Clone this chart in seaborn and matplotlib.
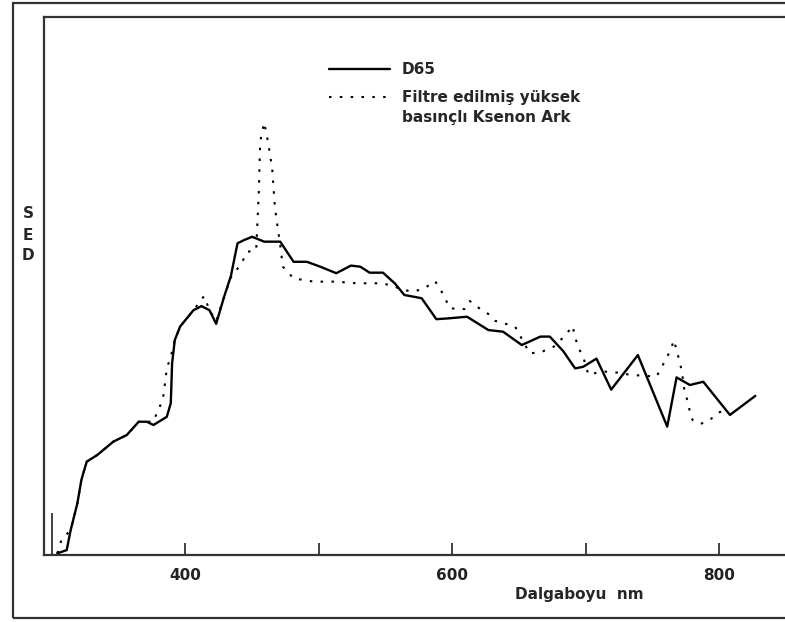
import seaborn as sns
import matplotlib.pyplot as plt
from matplotlib.patches import Rectangle
from matplotlib.legend_handler import HandlerLine2D

# D65 curve (wavelength nm, relative SPD)
wl_d65 = [304, 311, 314, 319, 322, 326, 334, 346, 356, 365,
          371, 376, 386, 389, 390, 392, 396, 406, 412, 418,
          423, 429, 434, 439, 444, 450, 459, 471, 481, 491,
          501, 513, 524, 531, 538, 548, 557, 564, 577, 588,
          597, 611, 627, 638, 652, 666, 673, 683, 692, 698,
          708, 719, 739, 761, 768, 778, 788, 808, 827]
spd_d65 = [0.6, 1.8, 9.2, 19.0, 27.6, 34.3, 36.8, 41.7, 44.1, 49.0,
           49.0, 47.8, 50.8, 55.8, 70.5, 79.0, 84.0, 90.0, 91.5, 90.0,
           85.0, 95.0, 102.5, 114.6, 115.8, 117.0, 115.2, 115.2, 107.8, 107.8,
           106.0, 103.6, 106.4, 106.0, 103.8, 103.8, 99.8, 95.6, 94.4, 86.7,
           87.0, 87.6, 82.7, 82.1, 77.2, 80.3, 80.3, 75.0, 68.6, 69.2,
           72.2, 60.8, 73.5, 47.2, 65.3, 62.5, 63.7, 51.5, 58.5]

# filtered high pressure xenon arc
wl_xe = [304, 307, 314, 319, 322, 326, 334, 346, 356, 365,
         371, 376, 379, 383, 385, 386, 389, 392, 396, 406,
         414, 418, 423, 429, 434, 442, 446, 453, 455, 456,
         459, 462, 465, 467, 469, 471, 473, 481, 496, 513,
         528, 548, 569, 578, 587, 591, 594, 598, 609, 613,
         621, 627, 632, 647, 658, 667, 676, 685, 690, 692,
         694, 698, 702, 711, 719, 734, 753, 757, 761, 764,
         766, 770, 772, 774, 776, 778, 780, 786, 793, 798, 806]
spd_xe = [0.6, 5.5, 9.2, 19.0, 27.6, 34.3, 36.8, 41.7, 44.1, 49.0,
          49.0, 49.0, 52.7, 57.0, 64.3, 68.6, 72.9, 79.0, 84.0, 90.0,
          95.2, 90.0, 86.0, 95.0, 102.0, 107.2, 111.4, 112.1, 134.0, 152.0,
          159.0, 151.5, 142.0, 128.0, 120.7, 114.0, 106.0, 101.7, 100.5, 100.5,
          99.9, 99.9, 96.8, 97.7, 100.7, 97.7, 95.0, 90.7, 90.4, 93.4,
          90.4, 88.6, 86.1, 84.0, 74.1, 74.7, 76.6, 80.9, 84.2, 80.3,
          76.6, 72.9, 66.2, 67.4, 67.4, 66.2, 65.6, 69.2, 72.9, 76.0,
          79.0, 71.7, 67.4, 60.0, 57.0, 52.7, 49.6, 48.2, 49.6, 52.1, 53.5]

labels = ['D65', 'Filtre edilmiş yüksek\nbasınçlı Ksenon Ark']


class TopLineHandler(HandlerLine2D):
    # put the handle next to the first line of a two-line label
    def __init__(self, shift=0, **kw):
        super().__init__(**kw)
        self.shift = shift

    def create_artists(self, *args, **kw):
        arts = super().create_artists(*args, **kw)
        for a in arts:
            a.set_ydata([y + self.shift for y in a.get_ydata()])
        return arts


sns.set_theme(style="white")
plt.rcParams['font.family'] = ['DejaVu Sans']
plt.rcParams['font.weight'] = 'bold'

fig = plt.figure(figsize=(7.85, 6.22), dpi=100)
ax = fig.add_axes([44 / 785, 1 - 555 / 622, (790 - 44) / 785, (555 - 17) / 622])

sns.lineplot(x=wl_d65, y=spd_d65, ax=ax, color='black', lw=1.7, label=labels[0])
sns.lineplot(x=wl_xe, y=spd_xe, ax=ax, color='black', lw=1.5,
             linestyle=(0, (1.2, 4)), label=labels[1])

ax.set_xlim(294, 853)
ax.set_ylim(0, 197.8)
ax.set_xticks([400, 500, 600, 700, 800])
ax.set_xticklabels(['400', '', '600', '', '800'])
ax.set_xticks([300], minor=True)
ax.set_yticks([])
ax.tick_params(axis='x', which='major', direction='in', length=9, width=1.2,
               pad=9, labelsize=11, bottom=True, colors='#222')
ax.tick_params(axis='x', which='minor', direction='in', length=30, width=1.2,
               bottom=True, color='#222')
ax.set_xlabel('')
ax.set_ylabel('')
for s in ax.spines.values():
    s.set_color('#333')
    s.set_linewidth(1.6)

fig.text(579 / 785, 1 - 594 / 622, 'Dalgaboyu  nm', ha='center', va='center',
         fontsize=11, fontweight='bold')
fig.text(28 / 785, 1 - 235 / 622, 'S\nE\nD', ha='center', va='center',
         fontsize=11, fontweight='bold', linespacing=1.5)

h, l = ax.get_legend_handles_labels()
leg = ax.legend(h, l, loc='upper left', bbox_to_anchor=(329 / 785, 1 - 62 / 622),
                bbox_transform=fig.transFigure, frameon=False, borderpad=0,
                borderaxespad=0, handlelength=4.0, handletextpad=0.75,
                labelspacing=0.85, prop={'size': 11, 'weight': 'bold'},
                handler_map={h[1]: TopLineHandler(shift=8.0)})
for t in leg.get_texts():
    t.set_linespacing(1.42)

fig.patches.append(Rectangle((13 / 785, 1 - 618 / 622), 1.0, (618 - 3) / 622,
                             transform=fig.transFigure, fill=False,
                             lw=1.6, ec='#333'))

fig.savefig('out.png', dpi=100)
